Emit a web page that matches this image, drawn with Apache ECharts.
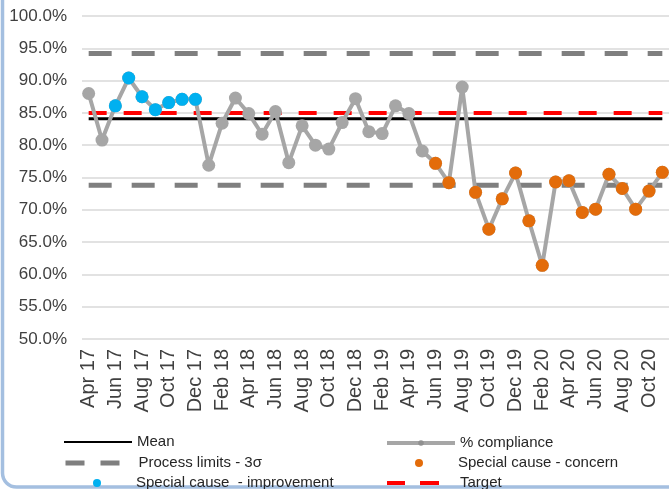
<!DOCTYPE html>
<html>
<head>
<meta charset="utf-8">
<script src="https://cdn.jsdelivr.net/npm/echarts@6/dist/echarts.min.js"></script>
<style>
  html, body { margin: 0; padding: 0; background: #fff; }
  #chart { width: 669px; height: 489px; }
</style>
</head>
<body>
<div id="chart"></div>
<script>
// months shown on the x axis (one point per month)
var months = ['Apr 17','May 17','Jun 17','Jul 17','Aug 17','Sep 17','Oct 17','Nov 17','Dec 17',
  'Jan 18','Feb 18','Mar 18','Apr 18','May 18','Jun 18','Jul 18','Aug 18','Sep 18','Oct 18','Nov 18','Dec 18',
  'Jan 19','Feb 19','Mar 19','Apr 19','May 19','Jun 19','Jul 19','Aug 19','Sep 19','Oct 19','Nov 19','Dec 19',
  'Jan 20','Feb 20','Mar 20','Apr 20','May 20','Jun 20','Jul 20','Aug 20','Sep 20','Oct 20','Nov 20'];

// % compliance
var compliance = [88.0, 80.8, 86.1, 90.4, 87.5, 85.5, 86.6, 87.1, 87.1,
  76.9, 83.4, 87.3, 84.9, 81.7, 85.2, 77.3, 83.0, 80.0, 79.4, 83.5, 87.2,
  82.1, 81.8, 86.1, 84.9, 79.1, 77.2, 74.2, 89.0, 72.7, 67.0, 71.7, 75.7,
  68.3, 61.4, 74.3, 74.5, 69.6, 70.1, 75.5, 73.3, 70.1, 72.9, 75.8];

// special cause points ('-' = not flagged)
var improvement = ['-', '-', 86.1, 90.4, 87.5, 85.5, 86.6, 87.1, 87.1,
  '-','-','-','-','-','-','-','-','-','-','-','-',
  '-','-','-','-','-','-','-','-','-','-','-','-',
  '-','-','-','-','-','-','-','-','-','-','-'];
var concern = ['-','-','-','-','-','-','-','-','-',
  '-','-','-','-','-','-','-','-','-','-','-','-',
  '-','-','-','-','-', 77.2, 74.2, '-', 72.7, 67.0, 71.7, 75.7,
  68.3, 61.4, 74.3, 74.5, 69.6, 70.1, 75.5, 73.3, 70.1, 72.9, 75.8];

var meanValue = 84.1;
var upperLimit = 94.2;
var lowerLimit = 73.8;
var targetValue = 85.0;

var yTicks = { min: 50, max: 100, step: 5 };

function flat(v) {
  return months.map(function () { return v; });
}

var myChart = echarts.init(document.getElementById('chart'));

var fontName = 'Liberation Sans, Arial, sans-serif';

function legendBox(name, left, top, extra) {
  var lg = {
    data: [name],
    left: left,
    top: top,
    padding: 0,
    selectedMode: false,
    itemWidth: 68,
    itemHeight: 8,
    textStyle: { fontFamily: fontName, color: '#262626', fontSize: 15, lineHeight: 18 }
  };
  for (var k in extra) lg[k] = extra[k];
  return lg;
}

// special cause marks: markers only, no joining line
function dots(name, data, color) {
  return {
    name: name, type: 'line', data: data, z: 3,
    symbol: 'circle', symbolSize: 13, showAllSymbol: true,
    lineStyle: { width: 0, opacity: 0 },
    itemStyle: { color: color }
  };
}

var option = {
  backgroundColor: '#fff',
  animation: false,
  graphic: [{
    type: 'rect',
    shape: { x: 2.5, y: -50, width: 800, height: 537, r: 14 },
    style: { fill: 'none', stroke: '#a4bfe0', lineWidth: 3.5 },
    silent: true
  }],
  grid: { left: 82, top: 16, right: -3, bottom: 150 },
  legend: [
    legendBox('Mean', 63, 433, { itemStyle: { opacity: 0 } }),
    legendBox('Process limits - 3σ', 63, 454, {
      itemStyle: { opacity: 0 },
      lineStyle: { type: [19, 16, 19, 20], width: 5 }
    }),
    legendBox('Special cause  - improvement', 63, 474, { itemHeight: 10 }),
    legendBox('% compliance', 385, 434, {
      itemHeight: 7,
      lineStyle: { width: 4 },
      itemStyle: { color: '#909090' }
    }),
    legendBox('Special cause - concern', 385, 454, { itemHeight: 10 }),
    legendBox('Target', 385, 474, {
      itemStyle: { opacity: 0 },
      lineStyle: { type: [18, 15, 19, 100], width: 4 }
    })
  ],
  xAxis: {
    type: 'category',
    data: months,
    boundaryGap: true,
    axisLine: { show: false },
    axisTick: { show: false },
    axisLabel: {
      interval: 1,
      rotate: 90,
      margin: 10,
      fontSize: 20,
      fontFamily: fontName,
      color: '#404040'
    }
  },
  yAxis: {
    type: 'value',
    min: yTicks.min,
    max: yTicks.max,
    interval: yTicks.step,
    axisLine: { show: false },
    axisTick: { show: false },
    splitLine: { lineStyle: { color: '#d9d9d9', width: 1.5 } },
    axisLabel: {
      margin: 15,
      fontSize: 17,
      fontFamily: fontName,
      color: '#404040',
      formatter: function (v) { return v.toFixed(1) + '%'; }
    }
  },
  series: [
    {
      name: 'Process limits - 3σ', type: 'line', data: flat(upperLimit), symbol: 'none',
      lineStyle: { color: '#7f7f7f', width: 5, type: [23, 20] }, itemStyle: { color: '#7f7f7f' }
    },
    {
      name: 'Process limits - 3σ', type: 'line', data: flat(lowerLimit), symbol: 'none',
      lineStyle: { color: '#7f7f7f', width: 5, type: [23, 20] }, itemStyle: { color: '#7f7f7f' }
    },
    {
      name: 'Mean', type: 'line', data: flat(meanValue), symbol: 'none',
      lineStyle: { color: '#000', width: 3 }, itemStyle: { color: '#000' }
    },
    {
      name: 'Target', type: 'line', data: flat(targetValue), symbol: 'none',
      lineStyle: { color: '#ff0000', width: 4, type: [18, 17] }, itemStyle: { color: '#ff0000' }
    },
    {
      name: '% compliance', type: 'line', data: compliance,
      symbol: 'circle', symbolSize: 13, showAllSymbol: true,
      lineStyle: { color: '#a6a6a6', width: 4 },
      itemStyle: { color: '#a6a6a6' }
    },
    dots('Special cause  - improvement', improvement, '#00b0f0'),
    dots('Special cause - concern', concern, '#e36c0a')
  ]
};

myChart.setOption(option);
</script>
</body>
</html>
